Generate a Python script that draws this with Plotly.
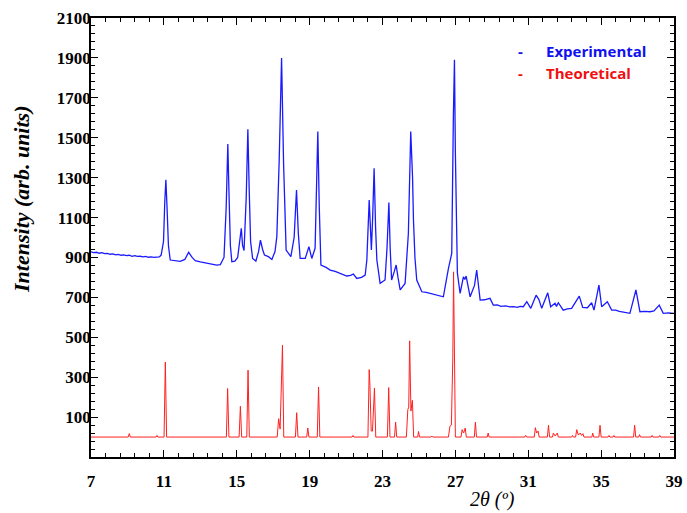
import plotly.graph_objects as go

# Experimental pattern (2theta, intensity)
exp_x = [7.00, 7.15, 7.3, 7.45, 7.6, 7.75, 7.9, 8.05, 8.2, 8.35, 8.5, 8.65, 8.8, 8.95, 9.1, 9.25, 9.4, 9.55,
         9.7, 9.85, 10.0, 10.15, 10.3, 10.45, 10.6, 10.75, 10.85, 10.98, 11.05, 11.11, 11.17,
         11.25, 11.35, 11.6, 11.9, 12.15, 12.36, 12.55, 12.72, 13.0, 13.3, 13.6, 13.9, 14.1, 14.3, 14.42, 14.51,
         14.58, 14.65, 14.73, 14.9, 15.05, 15.18, 15.25, 15.32, 15.40, 15.52, 15.61, 15.68, 15.76, 15.87, 16.05,
         16.20, 16.30, 16.42, 16.52, 16.74, 16.93, 17.10, 17.20, 17.33, 17.46, 17.57, 17.65, 17.71, 17.97, 18.15,
         18.28, 18.38, 18.48, 18.76, 18.96, 19.12, 19.30, 19.38, 19.45, 19.53, 19.62, 19.9, 20.13, 20.4, 20.7,
         21.04, 21.25, 21.40, 21.59, 21.85, 22.05, 22.14, 22.27, 22.35, 22.39, 22.46, 22.54, 22.62, 22.69, 22.87,
         23.14, 23.25, 23.35, 23.42, 23.50, 23.65, 23.75, 23.85, 23.97, 24.24, 24.37, 24.42, 24.55, 24.65, 24.70,
         24.78, 24.88, 25.16, 25.40, 25.61, 26.0, 26.34, 26.62, 26.80, 26.89, 26.95, 27.00, 27.06, 27.11, 27.26,
         27.44, 27.52, 27.59, 27.81, 28.05, 28.17, 28.27, 28.36, 28.6, 28.90, 29.08, 29.3, 29.5, 29.75, 30.0,
         30.2, 30.4, 30.55, 30.73, 30.92, 31.14, 31.43, 31.58, 31.74, 32.07, 32.23, 32.47, 32.55, 32.65, 32.92,
         33.15, 33.38, 33.80, 33.99, 34.25, 34.48, 34.61, 34.88, 35.03, 35.34, 35.58, 35.8, 36.0, 36.3, 36.58,
         36.91, 37.13, 37.4, 37.68, 37.9, 38.19, 38.41, 38.7, 39.0]
exp_y = [928, 924, 926, 921, 924, 919, 920, 916, 918, 913, 915, 911, 913, 909, 911, 906, 909, 905,
         906, 903, 905, 901, 903, 900, 902, 903, 912, 980, 1180, 1289, 1160,
         960, 887, 884, 880, 890, 926, 900, 884, 878, 872, 866, 862, 864, 900, 1150, 1469,
         1200, 960, 879, 882, 900, 990, 1046, 960, 935, 1200, 1543, 1250, 980, 895, 882,
         930, 987, 940, 912, 904, 890, 930, 1004, 1389, 1899, 1372, 1050, 937, 904, 1000,
         1238, 1020, 895, 895, 954, 895, 946, 1200, 1531, 1150, 862, 850, 837, 830, 818,
         807, 810, 817, 795, 800, 812, 887, 1188, 1000, 937, 1100, 1347, 1050, 887, 770,
         787, 950, 1175, 950, 787, 830, 862, 800, 737, 770, 1004, 1020, 1531, 1300, 1088,
         900, 787, 728, 725, 720, 712, 703, 845, 920, 1606, 1891, 1424, 1000, 822, 720,
         803, 790, 807, 703, 760, 837, 740, 686, 688, 695, 661, 662, 655, 657, 652,
         654, 650, 655, 653, 678, 645, 711, 690, 645, 723, 653, 670, 655, 673, 636,
         642, 645, 706, 650, 648, 673, 636, 762, 653, 678, 636, 636, 630, 626, 620,
         737, 628, 630, 628, 632, 661, 620, 622, 620]

# Theoretical (calculated) pattern
theo_x = [7.0,
          9.04, 9.10, 9.16, 10.57, 10.62, 10.67, 11.01, 11.08, 11.15,
          14.43, 14.50, 14.57, 15.13, 15.20, 15.27, 15.55, 15.62, 15.69,
          17.22, 17.30, 17.38, 17.51, 17.58, 18.22, 18.29, 18.36, 18.84, 18.90, 18.96,
          19.42, 19.49, 19.56, 21.33, 21.38, 21.43,
          22.20, 22.27, 22.31, 22.38, 22.45, 22.56, 22.63,
          23.27, 23.34, 23.41, 23.66, 23.72, 23.78,
          24.31, 24.39, 24.44, 24.49, 24.56, 24.64, 24.71, 24.93, 24.98, 25.03, 25.66, 25.71, 25.76,
          26.62, 26.70, 26.78, 26.86, 26.90, 26.94, 27.00,
          27.31, 27.37, 27.45, 27.54, 27.60, 28.04, 28.10, 28.16, 28.75, 28.80, 28.85,
          30.81, 30.86, 30.91, 31.33, 31.39, 31.46, 31.54, 31.60, 32.05, 32.11, 32.17,
          32.33, 32.38, 32.48, 32.59, 32.65, 33.38, 33.43, 33.48,
          33.60, 33.66, 33.75, 33.85, 33.93, 34.00, 34.06, 34.49, 34.54, 34.59, 34.88, 34.94, 35.00,
          35.38, 35.43, 35.48, 35.65, 35.70, 35.75, 36.78, 36.84, 36.90, 37.06, 37.11, 37.16,
          37.75, 37.80, 37.85, 38.17, 38.22, 38.27, 39.0]
theo_y = [0,
          0, 17, 0, 0, 8, 0, 0, 376, 0,
          0, 243, 0, 0, 154, 0, 0, 335, 0,
          0, 92, 40, 460, 0, 0, 122, 0, 0, 45, 0,
          0, 251, 0, 0, 8, 0,
          0, 338, 260, 30, 30, 246, 0,
          0, 248, 0, 0, 75, 0,
          0, 137, 150, 482, 130, 184, 0, 0, 28, 0, 0, 5, 0,
          0, 54, 60, 400, 828, 400, 0,
          0, 37, 20, 45, 0, 0, 75, 0, 0, 20, 0,
          0, 8, 0, 0, 47, 20, 30, 0, 0, 59, 0,
          0, 20, 5, 20, 0, 0, 8, 0,
          0, 37, 10, 20, 8, 17, 0, 0, 20, 0, 0, 59, 0,
          0, 8, 0, 0, 8, 0, 0, 59, 0, 0, 12, 0,
          0, 8, 0, 0, 8, 0, 0]

x_ticks = [7, 11, 15, 19, 23, 27, 31, 35, 39]
y_ticks = [100, 300, 500, 700, 900, 1100, 1300, 1500, 1700, 1900, 2100]
legend_names = ["Experimental", "Theoretical"]
colors = ["#1010f0", "#f01010"]

fig = go.Figure()
fig.add_trace(go.Scatter(x=exp_x, y=exp_y, mode="lines", name=legend_names[0],
                         line=dict(color="#1a1aff", width=1.3)))
fig.add_trace(go.Scatter(x=theo_x, y=theo_y, mode="lines", name=legend_names[1],
                         line=dict(color="#ff2020", width=1.0)))

tickfont = dict(family="Liberation Serif", size=17, color="black", weight="bold")
common = dict(showline=True, linecolor="black", linewidth=1.5, mirror="allticks",
              ticks="inside", ticklen=7, tickwidth=1.3, tickcolor="black",
              showgrid=False, zeroline=False, tickfont=tickfont, automargin=False)

fig.update_xaxes(range=[7, 39], tickvals=x_ticks, ticklabelstandoff=8,
                 minor=dict(dtick=0.8, tick0=7, ticks="inside", ticklen=4, tickcolor="black", tickwidth=1),
                 **common)
fig.update_yaxes(range=[-100, 2100], tickvals=y_ticks, ticklabelstandoff=-5,
                 minor=dict(dtick=40, tick0=100, ticks="inside", ticklen=4, tickcolor="black", tickwidth=1),
                 **common)

annotations = [
    dict(text="Intensity (arb. units)", xref="paper", yref="paper", x=-0.118, y=0.586,
         xanchor="center", yanchor="middle", textangle=-90, showarrow=False,
         font=dict(family="Liberation Serif", size=22, color="black", style="italic", weight="bold")),
    dict(text="2θ (º)", xref="paper", yref="paper", x=0.688, y=-0.097,
         xanchor="center", yanchor="middle", showarrow=False,
         font=dict(family="Liberation Serif", size=20, color="black", style="italic")),
]
leg_y = [1936, 1826]
for i, name in enumerate(legend_names):
    annotations.append(dict(text="-", x=30.55, y=leg_y[i], xref="x", yref="y", showarrow=False,
                            xanchor="center", yanchor="middle",
                            font=dict(family="Open Sans", size=15, color=colors[i], weight="bold")))
    annotations.append(dict(text=name, x=31.85, y=leg_y[i], xref="x", yref="y", showarrow=False,
                            xanchor="left", yanchor="middle",
                            font=dict(family="Open Sans", size=15, color=colors[i], weight="bold")))

fig.update_layout(width=687, height=513, margin=dict(l=91, r=13, t=18, b=56),
                  paper_bgcolor="white", plot_bgcolor="white", showlegend=False,
                  annotations=annotations)

fig.write_html("out.html")
